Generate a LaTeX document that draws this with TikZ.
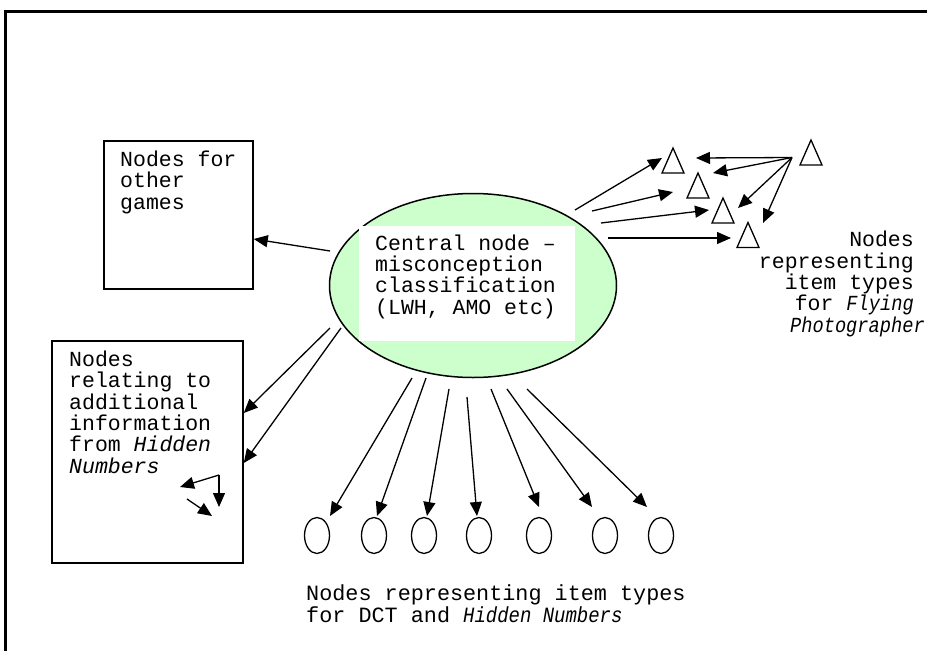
\documentclass[tikz,border=0pt]{standalone}
\usepackage{fontspec}
\setmainfont{Liberation Mono}
% condensed italic used for the game titles in the outer labels
\newfontfamily\narrowmono{Liberation Mono}[FakeStretch=0.87]
\newcommand\slimit[1]{{\narrowmono\itshape #1}}
\usetikzlibrary{arrows.meta,shapes.geometric}
\definecolor{hubgreen}{RGB}{204,255,204}
\begin{document}
\begin{tikzpicture}[x=1pt,y=-1pt,
  font=\fontsize{21.5pt}{21.3pt}\selectfont,
  arr/.style={line width=1.3pt,-{Triangle[length=14pt,width=12pt]}},
  box/.style={draw,line width=1.5pt,inner sep=0pt},
  % multi-line text blocks are placed by the baseline of their last line
  txt/.style={inner sep=0pt,anchor=base west,align=left},
  itemnode/.style={ellipse,draw,line width=1.3pt,minimum width=25pt,minimum height=36pt,inner sep=0pt},
  tri/.pic={\draw[line width=1.3pt,line join=miter] (-11,12.5) -- (0,-12.5) -- (11,12.5) -- cycle;
            \coordinate (-c) at (0,0);}
]
\useasboundingbox (0,0) rectangle (927,651);

% page frame (only top and left edges fall inside the view)
\draw[line width=3pt] (5.5,651) -- (5.5,11) -- (927,11);

% central classification node
\node[ellipse,draw,fill=hubgreen,line width=1.5pt,minimum width=287pt,minimum height=184pt,inner sep=0pt] (hub) at (473,285.5) {};
\node[fill=white,minimum width=216pt,minimum height=115pt,inner sep=0pt] (hubpanel) at (467,283.5) {};
\node[txt] (hubtext) at (375,314) {Central node –\\misconception\\classification\\(LWH, AMO etc)};

% box for other games
\node[box,minimum width=149pt,minimum height=148pt] (games) at (178.5,215) {};
\node[txt] (gamestext) at (120,209) {Nodes for\\other\\games};

% box for Hidden Numbers extra information
\node[box,minimum width=191pt,minimum height=222pt] (hidden) at (147.5,452) {};
\node[txt] (hiddentext) at (69,473) {Nodes\\relating to\\additional\\information\\from \textit{Hidden}\\\textit{Numbers}};
\coordinate (fork)  at (219,475);
\coordinate (forkL) at (180,487);
\coordinate (forkD) at (219,507);
\coordinate (stubA) at (187,499);
\coordinate (stubB) at (212,516);
\draw[arr] (fork) -- (forkL);
\draw[arr] (fork) -- (forkD);
\draw[arr] (stubA) -- (stubB);

% item-type nodes for DCT and Hidden Numbers
\node[itemnode] (o1) at (317,535.5) {};
\node[itemnode] (o2) at (374,535.5) {};
\node[itemnode] (o3) at (424,535.5) {};
\node[itemnode] (o4) at (479,535.5) {};
\node[itemnode] (o5) at (539,535.5) {};
\node[itemnode] (o6) at (605,535.5) {};
\node[itemnode] (o7) at (661,535.5) {};
\node[txt,font=\fontsize{21.8pt}{22pt}\selectfont] (dctnote) at (306,622)
  {Nodes representing item types\\for DCT and \slimit{Hidden Numbers}};

% item-type nodes for Flying Photographer
\pic (t1) at (673,160.5) {tri};
\pic (t2) at (698,185.5) {tri};
\pic (t3) at (723,210.5) {tri};
\pic (t4) at (748,235) {tri};
\pic (t5) at (811,152.5) {tri};
\node[txt,anchor=base east,align=right] (fpnote) at (914,332)
  {Nodes\\representing\\item types\\for \slimit{Flying}\\\slimit{Photographer}\hspace*{-11pt}};

% connectors from the central node
\draw[arr] ([shift={(-143,-34.5)}]hub.center) -- ([shift={(0,24)}]games.east);
\draw[arr] ([shift={(-143,42.5)}]hub.center) -- ([shift={(0,-39)}]hidden.east);
\draw[arr] ([shift={(-132,42.5)}]hub.center) -- ([shift={(0,11)}]hidden.east);

\draw[arr] ([shift={(-61,92.5)}]hub.center)  -- ([shift={(13,-19.5)}]o1.center);
\draw[arr] ([shift={(-47,92.5)}]hub.center)  -- ([shift={(3,-19.5)}]o2.center);
\draw[arr] ([shift={(-24,103.5)}]hub.center) -- ([shift={(3,-19.5)}]o3.center);
\draw[arr] ([shift={(-6,111.5)}]hub.center)  -- ([shift={(-2,-19.5)}]o4.center);
\draw[arr] ([shift={(18,103.5)}]hub.center)  -- ([shift={(0,-28.5)}]o5.center);
\draw[arr] ([shift={(34,103.5)}]hub.center)  -- ([shift={(-13,-28.5)}]o6.center);
\draw[arr] ([shift={(54,103.5)}]hub.center)  -- ([shift={(-14,-28.5)}]o7.center);

\draw[arr] ([shift={(102,-75.5)}]hub.center) -- ([shift={(-11,-2.5)}]t1-c);
\draw[arr] ([shift={(119,-74.5)}]hub.center) -- ([shift={(-25,6.5)}]t2-c);
\draw[arr] ([shift={(128,-62.5)}]hub.center) -- ([shift={(-14,-0.5)}]t3-c);
\draw[arr] ([shift={(135,-47.5)}]hub.center) -- ([shift={(-17,3)}]t4-c);

% links between the Flying Photographer item types
\draw[arr] ([shift={(-19,5)}]t5-c) -- ([shift={(23,-2.5)}]t1-c);
\draw[arr] ([shift={(-19,5)}]t5-c) -- ([shift={(15,-12.5)}]t2-c);
\draw[arr] ([shift={(-19,5)}]t5-c) -- ([shift={(15,-2.5)}]t3-c);
\draw[arr] ([shift={(-19,5)}]t5-c) -- ([shift={(15,-12)}]t4-c);
\end{tikzpicture}
\end{document}
